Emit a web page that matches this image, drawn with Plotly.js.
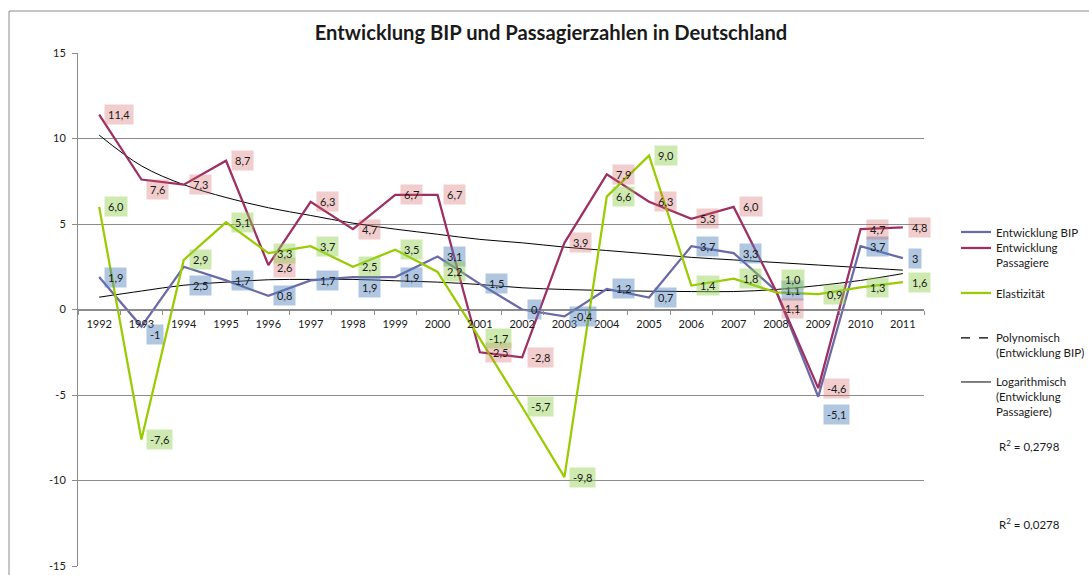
<!DOCTYPE html>
<html>
<head>
<meta charset="utf-8">
<script src="https://cdn.plot.ly/plotly-3.0.1.min.js"></script>
<style>html,body{margin:0;padding:0;background:#fff;}#chart{width:1089px;height:575px;}</style>
</head>
<body>
<div id="chart"></div>
<script>
const years = ["1992","1993","1994","1995","1996","1997","1998","1999","2000","2001","2002","2003","2004","2005","2006","2007","2008","2009","2010","2011"];
const bip = [1.9,-1,2.5,1.7,0.8,1.7,1.9,1.9,3.1,1.5,0,-0.4,1.2,0.7,3.7,3.3,1.1,-5.1,3.7,3];
const passagiere = [11.4,7.6,7.3,8.7,2.6,6.3,4.7,6.7,6.7,-2.5,-2.8,3.9,7.9,6.3,5.3,6.0,1.1,-4.6,4.7,4.8];
const elastizitaet = [6.0,-7.6,2.9,5.1,3.3,3.7,2.5,3.5,2.2,-1.7,-5.7,-9.8,6.6,9.0,1.4,1.8,1.0,0.9,1.3,1.6];
const polyBip = [0.72,1.08,1.42,1.6,1.74,1.76,1.76,1.68,1.6,1.46,1.27,1.17,1.11,1.07,1.05,1.05,1.17,1.4,1.7,2.1];
const logPass = [10.2,8.4,7.3,6.55,5.95,5.5,5.05,4.7,4.4,4.1,3.9,3.65,3.45,3.25,3.05,2.9,2.75,2.6,2.45,2.3];
const yTickVals = [-15,-10,-5,0,5,10,15];
const yTickText = ["-15","-10","-5","0","5","10","15"];
const r2Texts = ["R<sup>2</sup> = 0,2798","R<sup>2</sup> = 0,0278"];

// manual label nudges (pixels, positive = down), as placed in the original
const bipLabelNudge  = [0,8,19,0,0,0,10,0,0,0,0,0,0,0,0,0,0,18,0,0];
const passLabelNudge = [0,10,0,0,2,0,0,0,0,0,0,0,0,0,0,0,18,0,0,0];
const elLabelNudge   = [0,0,0,0,0,0,0,0,0,0,0,0,0,0,0,0,-13,0,0,0];

const FONT = "Lato, 'Open Sans', sans-serif";
const cBip = "#6b6aa8", cPass = "#9e2f62", cEl = "#99cc00";

const traces = [
  {x: years, y: polyBip, mode: "lines", line: {color: "#000", width: 1, shape: "spline"}, showlegend: false, hoverinfo: "skip"},
  {x: years, y: logPass, mode: "lines", line: {color: "#000", width: 1, shape: "spline"}, name: "Logarithmisch<br>(Entwicklung<br>Passagiere)", legend: "legend5"},
  {x: years, y: bip, mode: "lines", line: {color: cBip, width: 2.25}, name: "Entwicklung BIP", legend: "legend"},
  {x: years, y: passagiere, mode: "lines", line: {color: cPass, width: 2.25}, name: "Entwicklung<br>Passagiere", legend: "legend2"},
  {x: years, y: elastizitaet, mode: "lines", line: {color: cEl, width: 2.25}, name: "Elastizität", legend: "legend3"},
  {x: years, y: years.map(() => null), mode: "lines", line: {color: "#000", width: 1.25, dash: "dash"}, name: "Polynomisch<br>(Entwicklung BIP)", legend: "legend4"}
];

const annotations = [];
function addLabels(vals, nudge, bg, fmt) {
  vals.forEach((v, i) => {
    annotations.push({x: i, y: v, xref: "x", yref: "y", text: fmt(v), showarrow: false,
      xanchor: "left", yanchor: "middle", xshift: 5, yshift: -nudge[i], bgcolor: bg, borderpad: 3,
      font: {family: FONT, size: 11, color: "#1a1a1a"}});
  });
}
addLabels(bip, bipLabelNudge, "rgba(79,129,189,0.45)", v => String(v).replace(".", ","));
addLabels(passagiere, passLabelNudge, "rgba(210,90,90,0.3)", v => v.toFixed(1).replace(".", ","));
addLabels(elastizitaet, elLabelNudge, "rgba(146,208,80,0.45)", v => v.toFixed(1).replace(".", ","));

const PT = 53, PB = 566, PL = 78, PR = 924;
const py = p => (PB - p) / (PB - PT);
const px = p => (p - PL) / (PR - PL);
annotations.push({xref: "paper", yref: "paper", x: px(1029), y: py(445), xanchor: "center", yanchor: "middle", text: r2Texts[0], showarrow: false, font: {family: FONT, size: 11.5, color: "#1a1a1a"}});
annotations.push({xref: "paper", yref: "paper", x: px(1029), y: py(523), xanchor: "center", yanchor: "middle", text: r2Texts[1], showarrow: false, font: {family: FONT, size: 11.5, color: "#1a1a1a"}});

function lg(top) {
  return {x: px(956), xanchor: "left", y: py(top), yanchor: "top", bgcolor: "rgba(0,0,0,0)",
    borderwidth: 0, valign: "top", font: {family: FONT, size: 11.5, color: "#1a1a1a"}, itemwidth: 30};
}

const layout = {
  width: 1089, height: 575,
  margin: {l: PL, r: 1089 - PR, t: PT, b: 575 - PB, pad: 0, autoexpand: false},
  paper_bgcolor: "#fff", plot_bgcolor: "rgba(0,0,0,0)",
  font: {family: FONT, size: 11, color: "#1a1a1a"},
  title: {text: "<b>Entwicklung BIP und Passagierzahlen in Deutschland</b>", xref: "container", x: 551/1089, xanchor: "center",
    yref: "container", y: 1 - 33/575, yanchor: "middle", font: {family: FONT, size: 20.2, color: "#1a1a1a"}},
  xaxis: {type: "category", categoryorder: "array", categoryarray: years, range: [-0.5, 19.5],
    anchor: "free", position: 0.5, showline: true, linecolor: "#8c8c8c", linewidth: 1,
    ticks: "outside", tickson: "boundaries", ticklen: 4, tickcolor: "#8c8c8c", showgrid: false, zeroline: false,
    tickfont: {family: FONT, size: 11, color: "#1a1a1a"}, ticklabelstandoff: 4, fixedrange: true, automargin: false},
  yaxis: {range: [-15, 15], tickmode: "array", tickvals: yTickVals, ticktext: yTickText, showline: true, linecolor: "#8c8c8c", linewidth: 1,
    ticks: "outside", ticklen: 5, tickcolor: "#8c8c8c", showgrid: true, gridcolor: "#8c8c8c", gridwidth: 1,
    zeroline: false, tickfont: {family: FONT, size: 11, color: "#1a1a1a"}, ticklabelstandoff: 4, fixedrange: true, automargin: false},
  showlegend: true,
  legend: lg(218), legend2: lg(234), legend3: lg(279), legend4: lg(324), legend5: lg(368),
  annotations: annotations,
  shapes: [{type: "rect", xref: "paper", yref: "paper", x0: px(9), x1: px(1100), y0: py(590), y1: py(11),
    line: {color: "#8c8c8c", width: 1}, fillcolor: "rgba(0,0,0,0)", layer: "below"}]
};

Plotly.newPlot("chart", traces, layout, {staticPlot: true, displayModeBar: false});
</script>
</body>
</html>
